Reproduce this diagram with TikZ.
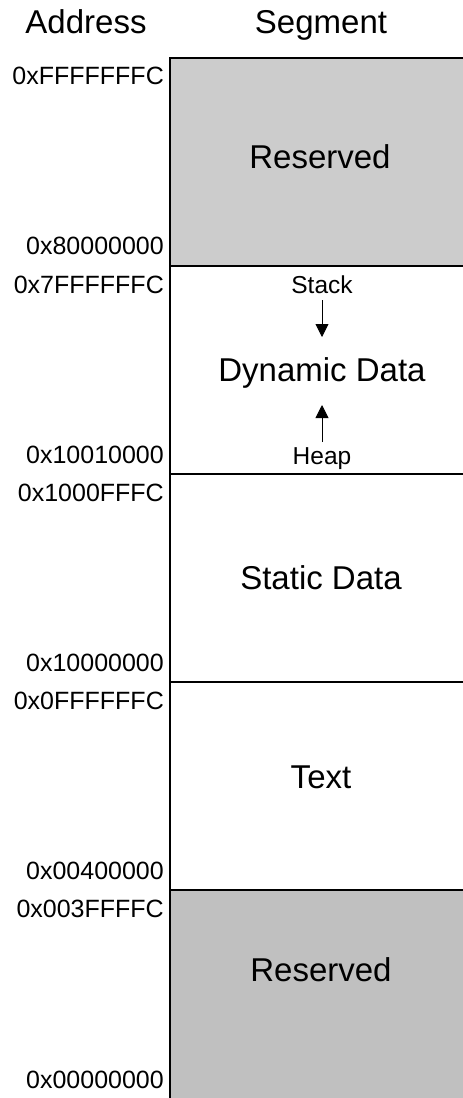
\documentclass[tikz,border=0pt]{standalone}
\usepackage{fontspec}
\setmainfont{Liberation Sans}
\usetikzlibrary{arrows.meta}
\definecolor{resA}{HTML}{CCCCCC}
\definecolor{resB}{HTML}{C0C0C0}
\tikzset{
  big/.style={font=\fontsize{33}{38}\selectfont, inner sep=0pt, text height=23.6pt, text depth=0pt},
  small/.style={font=\fontsize{24.5}{28}\selectfont, inner sep=0pt, text height=17.5pt, text depth=0pt},
  addr/.style={font=\fontsize{25}{28}\selectfont, inner sep=0pt, text height=17.9pt, text depth=0pt, anchor=east},
  segbox/.style={draw=black, line width=1.3pt},
  growarrow/.style={line width=0.9pt, -{Triangle[length=13pt,width=13pt]}}
}
\begin{document}
\begin{tikzpicture}[x=1pt,y=-1pt]
\useasboundingbox (0,0) rectangle (463,1098);
\begin{scope}
\clip (0,0) rectangle (463,1098);
\path[segbox, fill=resA] (170,58) rectangle (472,266);
\path[segbox, fill=white] (170,266) rectangle (472,474);
\path[segbox, fill=white] (170,474) rectangle (472,682);
\path[segbox, fill=white] (170,682) rectangle (472,890);
\path[segbox, fill=resB] (170,890) rectangle (472,1100);
\end{scope}
% headings
\node[big] (haddr) at (86,22) {Address};
\node[big] (hseg) at (321,22) {Segment};
% segment labels
\node[big] (res1) at (320,157) {Reserved};
\node[big] (dyn) at (322,370) {Dynamic Data};
\node[big] (stat) at (321,578) {Static Data};
\node[big] (text) at (321,777) {Text};
\node[big] (res2) at (321,970) {Reserved};
% stack / heap
\node[small] (stack) at (322,285) {Stack};
\node[small] (heap) at (322,456) {Heap};
\coordinate (stacktip) at (322,337);
\coordinate (heaptip) at (322,405);
\coordinate (stackstart) at (322,300);
\coordinate (heapstart) at (322,442);
\draw[growarrow] (stackstart) -- (stacktip);
\draw[growarrow] (heapstart) -- (heaptip);
% addresses
\node[addr] (a1) at (164,76) {0xFFFFFFFC};
\node[addr] (a2) at (164,246) {0x80000000};
\node[addr] (a3) at (164,285) {0x7FFFFFFC};
\node[addr] (a4) at (164,455) {0x10010000};
\node[addr] (a5) at (164,493) {0x1000FFFC};
\node[addr] (a6) at (164,663) {0x10000000};
\node[addr] (a7) at (164,701) {0x0FFFFFFC};
\node[addr] (a8) at (164,871) {0x00400000};
\node[addr] (a9) at (164,909) {0x003FFFFC};
\node[addr] (a10) at (164,1080) {0x00000000};
\end{tikzpicture}
\end{document}
